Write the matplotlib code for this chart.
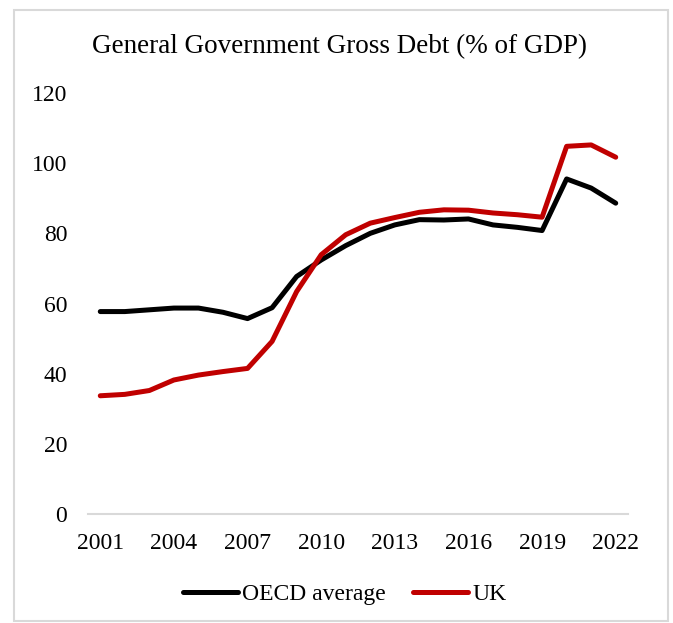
import matplotlib
matplotlib.use("Agg")
import matplotlib.pyplot as plt
from matplotlib.patches import Rectangle

# データ
years = list(range(2001, 2023))
oecd_avg = [57.7, 57.7, 58.2, 58.7, 58.7, 57.5, 55.7, 58.8, 67.7, 72.4, 76.5,
            80.0, 82.4, 83.9, 83.8, 84.1, 82.4, 81.7, 80.8, 95.5, 92.9, 88.6]
uk = [33.7, 34.1, 35.2, 38.2, 39.6, 40.6, 41.5, 49.2, 63.4, 73.9, 79.6,
      82.9, 84.5, 86.0, 86.7, 86.6, 85.8, 85.3, 84.6, 104.8, 105.2, 101.7]
xtick_years = [2001, 2004, 2007, 2010, 2013, 2016, 2019, 2022]
yticks = [0, 20, 40, 60, 80, 100, 120]
title = "General Government Gross Debt (% of GDP)"

plt.rcParams['font.family'] = ['Liberation Serif', 'DejaVu Serif']

fig = plt.figure(figsize=(6.73, 6.23), dpi=100)
# 外枠
fig.patches.append(Rectangle((14 / 673, 1 - 621 / 623), (668 - 14) / 673, (621 - 10) / 623,
                             transform=fig.transFigure, fill=False,
                             edgecolor='#d9d9d9', lw=1.5))

ax = fig.add_axes([88 / 673, 1 - 514 / 623, (628 - 88) / 673, (514 - 93) / 623])
ax.plot(years, oecd_avg, color='black', lw=3.6, solid_capstyle='round',
        solid_joinstyle='round', label='OECD average')
ax.plot(years, uk, color='#c00000', lw=3.6, solid_capstyle='round',
        solid_joinstyle='round', label='UK')

ax.set_xlim(2000.5, 2022.5)
ax.set_ylim(0, 120)
ax.set_xticks(xtick_years)
ax.set_yticks(yticks)
for s in ['top', 'right', 'left']:
    ax.spines[s].set_visible(False)
ax.spines['bottom'].set_color('#d9d9d9')
ax.spines['bottom'].set_linewidth(1.5)
ax.tick_params(axis='both', length=0, labelsize=17)
ax.tick_params(axis='y', pad=15)
ax.tick_params(axis='x', pad=14)

fig.text(340 / 673, 1 - 47 / 623, title, ha='center', va='center', fontsize=19.5)

fig.legend(loc='center', bbox_to_anchor=(345 / 673, 1 - 594 / 623), ncol=2,
           frameon=False, fontsize=17, handlelength=2.3, handletextpad=0.2,
           columnspacing=1.15)

fig.savefig('out.png', dpi=100)
